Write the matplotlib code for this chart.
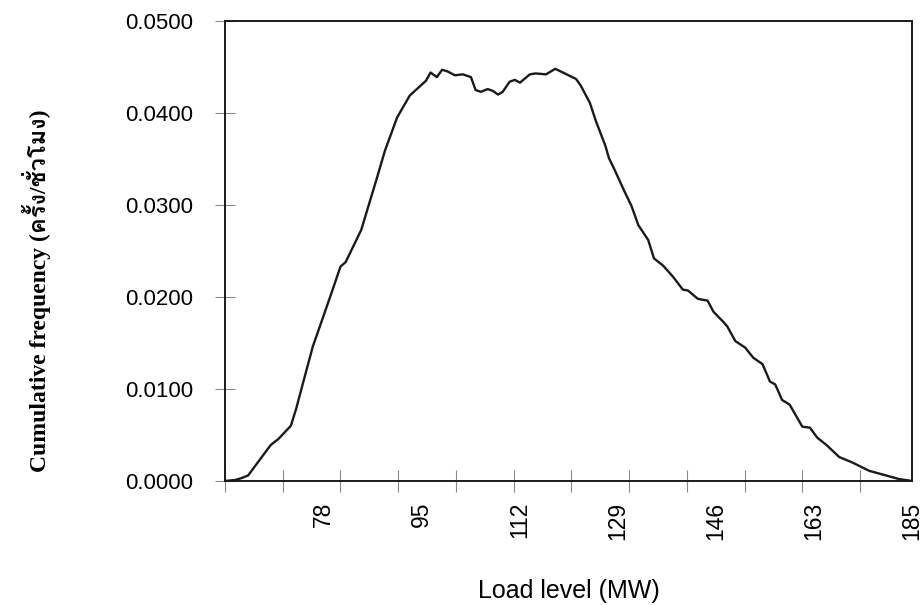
import matplotlib
matplotlib.use("Agg")
import matplotlib.pyplot as plt
from matplotlib import font_manager
from matplotlib.ft2font import FT2Font
from matplotlib.ticker import FormatStrFormatter

# load level (MW) and cumulative frequency of each load level
load_mw = [61.0, 62.7, 63.8, 65.0, 68.9, 70.3, 72.4, 73.3, 74.7, 76.2,
           79.2, 81.0, 81.9, 84.6, 85.8, 87.2, 88.7, 90.8, 93.0, 95.8,
           96.6, 97.7, 98.6, 99.6, 100.8, 102.2, 103.6, 104.4, 105.3, 106.5,
           107.4, 108.3, 109.1, 110.3, 111.2, 112.1, 113.8, 114.8, 116.6, 118.2,
           119.2, 121.8, 122.6, 124.2, 125.2, 126.9, 127.5, 128.5, 130.1, 131.4,
           132.6, 134.3, 135.3, 136.9, 138.6, 140.3, 141.2, 142.9, 144.6, 145.6,
           147.3, 148.0, 149.4, 151.1, 152.5, 154.1, 155.4, 156.3, 157.5, 158.8,
           161.0, 162.3, 163.6, 165.2, 167.4, 169.7, 172.6, 175.5, 177.8, 180.0]
freq = [0.0000, 0.0001, 0.0003, 0.0006, 0.0039, 0.0046, 0.0060, 0.0078, 0.0111, 0.0146,
        0.0200, 0.0233, 0.0238, 0.0273, 0.0298, 0.0327, 0.0359, 0.0395, 0.0419, 0.0435,
        0.0444, 0.0439, 0.0447, 0.0445, 0.0441, 0.0442, 0.0439, 0.0425, 0.0423, 0.0426,
        0.0424, 0.0420, 0.0423, 0.0434, 0.0436, 0.0433, 0.0442, 0.0443, 0.0442, 0.0448,
        0.0445, 0.0437, 0.0430, 0.0411, 0.0392, 0.0364, 0.0351, 0.0338, 0.0316, 0.0299,
        0.0278, 0.0262, 0.0242, 0.0234, 0.0222, 0.0208, 0.0207, 0.0198, 0.0196, 0.0184,
        0.0173, 0.0168, 0.0152, 0.0145, 0.0134, 0.0127, 0.0108, 0.0105, 0.0088, 0.0083,
        0.0059, 0.0058, 0.0047, 0.0039, 0.0026, 0.0020, 0.0011, 0.0006, 0.0002, 0.0000]

# category labels shown along the load axis
label_pos = [78, 95, 112, 129, 146, 163, 180]
label_txt = ["78", "95", "112", "129", "146", "163", "185"]
tick_marks = [61, 71, 81, 91, 101, 111, 121, 131, 141, 151, 161, 171, 180]
y_ticks = [0.0, 0.01, 0.02, 0.03, 0.04, 0.05]


def thai_family():
    # first installed font that has Thai glyphs, if any
    for f in font_manager.fontManager.ttflist:
        try:
            if ord("ค") in FT2Font(f.fname).get_charmap():
                return f.name
        except Exception:
            pass
    return "DejaVu Sans"


thai = thai_family()

fig = plt.figure(figsize=(9.23, 6.05), dpi=100)
ax = fig.add_axes([0.2438, 0.2050, 0.7443, 0.7603])

ax.plot(load_mw, freq, color="#1a1a1a", lw=1.7)

ax.set_xlim(61, 180)
ax.set_ylim(0, 0.05)

ax.set_xticks(label_pos)
ax.set_xticklabels(label_txt, rotation=90, family="Liberation Sans", fontsize=16.5)
ax.tick_params(axis="x", which="major", length=0, pad=15)
ax.set_xticks(tick_marks, minor=True)
ax.tick_params(axis="x", which="minor", direction="inout", length=16,
               width=0.8, color="#888888")

ax.set_yticks(y_ticks)
ax.yaxis.set_major_formatter(FormatStrFormatter("%.4f"))
ax.tick_params(axis="y", direction="inout", length=14, width=0.8,
               color="#888888", pad=16, labelsize=16)
for lbl in ax.get_yticklabels():
    lbl.set_family("Liberation Sans")

for s in ax.spines.values():
    s.set_color("#1a1a1a")
    s.set_linewidth(1.4)

ax.set_xlabel("Load level (MW)", family="Liberation Sans", fontsize=18, labelpad=28)
fig.text(0.040, 0.52, "Cumulative frequency (ครั้ง/ชั่วโมง)", rotation=90,
         ha="center", va="center", fontsize=17, fontweight="bold",
         family=["Liberation Serif", thai])

fig.savefig("out.png", dpi=100)
